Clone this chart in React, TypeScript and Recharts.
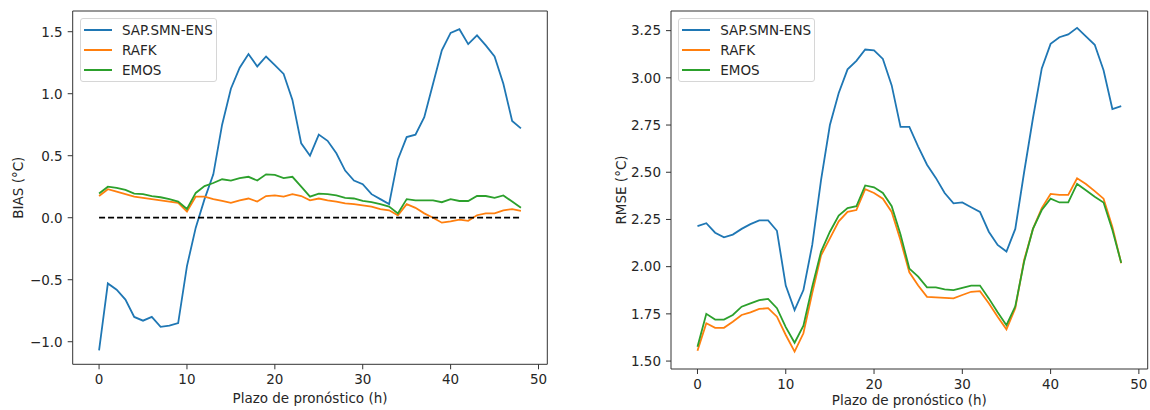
import React from 'react';
import { LineChart, Line, XAxis, YAxis, Legend, ReferenceLine, ReferenceArea, Label } from 'recharts';

// forecast lead time (h)
const leads = [
  0, 1, 2, 3, 4, 5, 6, 7, 8, 9, 10, 11, 12, 13, 14, 15, 16, 17, 18, 19, 20, 21, 22, 23, 24,
  25, 26, 27, 28, 29, 30, 31, 32, 33, 34, 35, 36, 37, 38, 39, 40, 41, 42, 43, 44, 45, 46, 47, 48,
];

const biasSap = [
  -1.07, -0.53, -0.58, -0.66, -0.8, -0.83, -0.8, -0.88, -0.87, -0.85,
  -0.39, -0.08, 0.15, 0.35, 0.75, 1.04, 1.21, 1.32, 1.22, 1.3,
  1.23, 1.16, 0.95, 0.6, 0.5, 0.67, 0.62, 0.52, 0.38, 0.3,
  0.27, 0.19, 0.15, 0.11, 0.47, 0.65, 0.67, 0.81, 1.08, 1.35,
  1.49, 1.52, 1.4, 1.47, 1.39, 1.3, 1.08, 0.78, 0.72,
];
const biasRafk = [
  0.175, 0.23, 0.21, 0.19, 0.17, 0.16, 0.15, 0.14, 0.13, 0.12,
  0.05, 0.17, 0.17, 0.15, 0.135, 0.12, 0.14, 0.155, 0.13, 0.175,
  0.18, 0.17, 0.19, 0.175, 0.14, 0.155, 0.14, 0.13, 0.115, 0.11,
  0.1, 0.09, 0.07, 0.06, 0.02, 0.11, 0.08, 0.035, 0.0, -0.04,
  -0.03, -0.015, -0.025, 0.02, 0.035, 0.035, 0.06, 0.07, 0.055,
];
const biasEmos = [
  0.195, 0.25, 0.24, 0.225, 0.195, 0.19, 0.175, 0.165, 0.15, 0.13,
  0.07, 0.2, 0.255, 0.28, 0.31, 0.3, 0.32, 0.33, 0.3, 0.35,
  0.345, 0.32, 0.33, 0.25, 0.17, 0.195, 0.19, 0.18, 0.16, 0.155,
  0.135, 0.125, 0.11, 0.09, 0.035, 0.15, 0.14, 0.14, 0.14, 0.125,
  0.15, 0.135, 0.135, 0.175, 0.175, 0.16, 0.18, 0.13, 0.08,
];

const rmseSap = [
  2.215, 2.23, 2.18, 2.155, 2.17, 2.2, 2.225, 2.245, 2.245, 2.19,
  1.9, 1.77, 1.876, 2.115, 2.46, 2.75, 2.92, 3.045, 3.09, 3.15,
  3.145, 3.1, 2.96, 2.74, 2.74, 2.636, 2.54, 2.47, 2.39, 2.335,
  2.34, 2.315, 2.29, 2.185, 2.115, 2.08, 2.2, 2.5, 2.786, 3.05,
  3.18, 3.215, 3.23, 3.265, 3.22, 3.175, 3.04, 2.835, 2.85,
];
const rmseRafk = [
  1.555, 1.7, 1.676, 1.676, 1.708, 1.744, 1.758, 1.776, 1.78, 1.735,
  1.638, 1.55, 1.647, 1.86, 2.06, 2.15, 2.24, 2.29, 2.3, 2.41,
  2.39, 2.36, 2.29, 2.14, 1.97, 1.9, 1.84, 1.837, 1.835, 1.832,
  1.85, 1.867, 1.87, 1.806, 1.735, 1.668, 1.78, 2.035, 2.2, 2.31,
  2.385, 2.38, 2.38, 2.468, 2.438, 2.4, 2.36, 2.21, 2.018,
];
const rmseEmos = [
  1.576, 1.75, 1.72, 1.72, 1.744, 1.788, 1.806, 1.823, 1.829, 1.78,
  1.68, 1.597, 1.687, 1.894, 2.08, 2.185, 2.27, 2.31, 2.32, 2.43,
  2.42, 2.39, 2.32, 2.17, 1.99, 1.947, 1.89, 1.89, 1.88, 1.876,
  1.888, 1.9, 1.9, 1.832, 1.758, 1.69, 1.79, 2.026, 2.2, 2.3,
  2.36, 2.34, 2.34, 2.438, 2.405, 2.37, 2.34, 2.194, 2.02,
];

const xTicks = [0, 10, 20, 30, 40, 50];
const biasTicks = [-1, -0.5, 0, 0.5, 1, 1.5];
const rmseTicks = [1.5, 1.75, 2, 2.25, 2.5, 2.75, 3, 3.25];
const seriesNames = ['SAP.SMN-ENS', 'RAFK', 'EMOS'];
const colors = ['#1f77b4', '#ff7f0e', '#2ca02c'];

const font = '"DejaVu Sans", sans-serif';
const fontSize = 13.5;
const textColor = '#262626';

const biasData = leads.map((h, i) => ({ h, sap: biasSap[i], rafk: biasRafk[i], emos: biasEmos[i] }));
const rmseData = leads.map((h, i) => ({ h, sap: rmseSap[i], rafk: rmseRafk[i], emos: rmseEmos[i] }));

const fmt = (d: number) => (v: number) => (v < 0 ? '\u2212' : '') + Math.abs(v).toFixed(d);

// keep the plotting order in the legend (recharts sorts by name otherwise)
const LegendBox = ({ payload }: any) => {
  const items = [...(payload || [])].sort(
    (a: any, b: any) => seriesNames.indexOf(a.value) - seriesNames.indexOf(b.value)
  );
  return (
    <div
      style={{
        width: 137,
        boxSizing: 'border-box',
        border: '1px solid #d6d6d6',
        borderRadius: 3,
        background: 'rgba(255,255,255,0.8)',
        padding: '1px 3px 1px 3px',
        fontFamily: font,
        fontSize,
        color: textColor,
        whiteSpace: 'nowrap',
      }}
    >
      {items.map((p: any) => (
        <div key={p.value} style={{ display: 'flex', alignItems: 'center', height: 20 }}>
          <svg width={28} height={4} style={{ marginRight: 10, flex: 'none' }}>
            <line x1={0} y1={2} x2={28} y2={2} stroke={p.color} strokeWidth={2} />
          </svg>
          <span>{p.value}</span>
        </div>
      ))}
    </div>
  );
};

type PanelProps = {
  data: any[];
  yDomain: [number, number];
  yTicks: number[];
  decimals: number;
  yLabel: string;
  yLabelX: number;
  xLabelY: number;
  margin: { top: number; right: number; bottom: number; left: number };
  xAxisHeight: number;
  legendLeft: number;
  zeroLine?: boolean;
};

const Panel = ({ data, yDomain, yTicks, decimals, yLabel, yLabelX, xLabelY, margin, xAxisHeight, legendLeft, zeroLine }: PanelProps) => (
  <LineChart width={560} height={410} data={data} margin={margin}>
    <XAxis
      dataKey="h"
      type="number"
      domain={[-3, 51]}
      ticks={xTicks}
      allowDataOverflow
      height={xAxisHeight}
      axisLine={false}
      tickSize={5}
      tickMargin={5}
      tickLine={{ stroke: '#333' }}
      tick={{ fill: textColor, fontSize, fontFamily: font }}
    >
      <Label
        content={({ viewBox }: any) => (
          <text
            x={viewBox.x + viewBox.width / 2}
            y={xLabelY}
            textAnchor="middle"
            fill={textColor}
            fontSize={fontSize}
            fontFamily={font}
          >
            Plazo de pronóstico (h)
          </text>
        )}
      />
    </XAxis>
    <YAxis
      type="number"
      domain={yDomain}
      ticks={yTicks}
      allowDataOverflow
      width={60}
      axisLine={false}
      tickSize={5}
      tickMargin={5}
      tickLine={{ stroke: '#333' }}
      tickFormatter={fmt(decimals)}
      tick={{ fill: textColor, fontSize, fontFamily: font }}
    >
      <Label
        content={({ viewBox }: any) => {
          const cy = viewBox.y + viewBox.height / 2;
          return (
            <text
              x={yLabelX}
              y={cy}
              transform={`rotate(-90, ${yLabelX}, ${cy})`}
              textAnchor="middle"
              dominantBaseline="central"
              fill={textColor}
              fontSize={fontSize}
              fontFamily={font}
            >
              {yLabel}
            </text>
          );
        }}
      />
    </YAxis>
    <ReferenceArea
      x1={-3}
      x2={51}
      y1={yDomain[0]}
      y2={yDomain[1]}
      fill="none"
      fillOpacity={0}
      stroke="#333"
      strokeWidth={1}
      ifOverflow="visible"
    />
    <Line type="linear" dataKey="sap" name={seriesNames[0]} stroke={colors[0]} strokeWidth={1.8} dot={false} isAnimationActive={false} />
    <Line type="linear" dataKey="rafk" name={seriesNames[1]} stroke={colors[1]} strokeWidth={1.8} dot={false} isAnimationActive={false} />
    <Line type="linear" dataKey="emos" name={seriesNames[2]} stroke={colors[2]} strokeWidth={1.8} dot={false} isAnimationActive={false} />
    {zeroLine && (
      <ReferenceLine
        segment={[
          { x: leads[0], y: 0 },
          { x: leads[leads.length - 1], y: 0 },
        ]}
        stroke="#000"
        strokeWidth={1.8}
        strokeDasharray="6 3"
      />
    )}
    <Legend
      layout="horizontal"
      verticalAlign="middle"
      align="center"
      content={<LegendBox />}
      wrapperStyle={{ left: legendLeft, top: 18, width: 137 }}
    />
  </LineChart>
);

export default function App() {
  return (
    <div style={{ position: 'absolute', left: 0, top: 0, width: 1150, height: 410, background: '#fff' }}>
      <div style={{ position: 'absolute', left: 0, top: 0 }}>
        <Panel
          data={biasData}
          yDomain={[-1.182, 1.667]}
          yTicks={biasTicks}
          decimals={1}
          yLabel="BIAS (°C)"
          yLabelX={18.5}
          xLabelY={403}
          margin={{ top: 11, right: 12.7, bottom: 5.7, left: 12.7 }}
          xAxisHeight={40}
          legendLeft={80}
          zeroLine
        />
      </div>
      <div style={{ position: 'absolute', left: 590, top: 0 }}>
        <Panel
          data={rmseData}
          yDomain={[1.458, 3.354]}
          yTicks={rmseTicks}
          decimals={2}
          yLabel="RMSE (°C)"
          yLabelX={30.7}
          xLabelY={405}
          margin={{ top: 11, right: 2.3, bottom: 5, left: 21 }}
          xAxisHeight={36}
          legendLeft={88.3}
        />
      </div>
    </div>
  );
}
